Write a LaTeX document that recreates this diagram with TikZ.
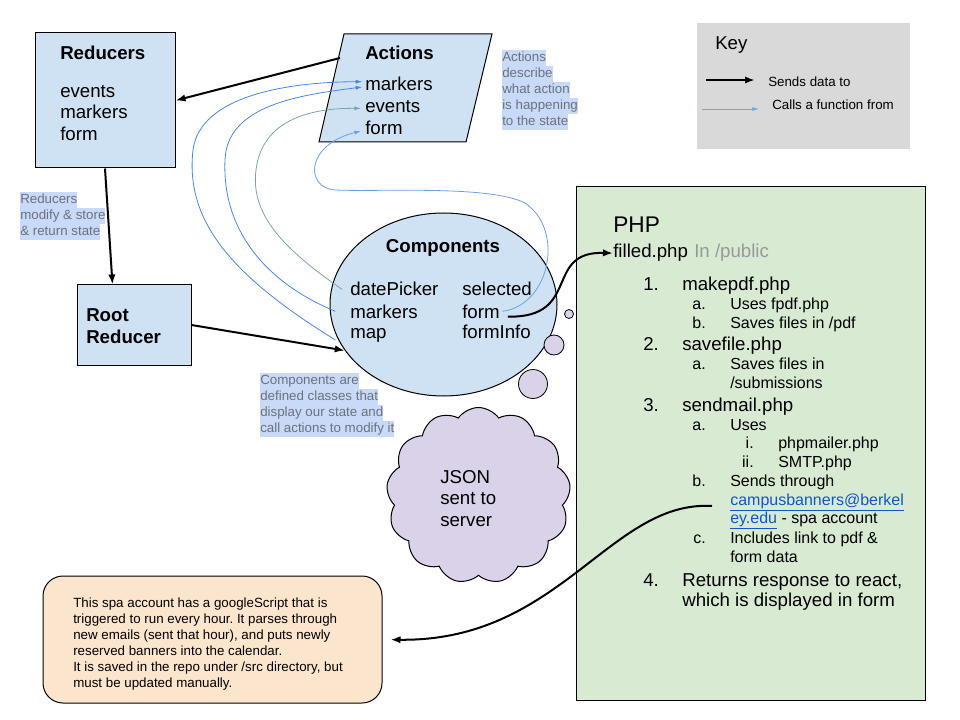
\documentclass[tikz,border=0pt]{standalone}
\usepackage{fontspec}
\setmainfont{Liberation Sans}
\usetikzlibrary{arrows.meta}
\usetikzlibrary{positioning, shapes.geometric, shapes.symbols, calc}

\definecolor{boxblue}{HTML}{CFE2F3}
\definecolor{hlblue}{HTML}{C9DAF8}
\definecolor{notegrey}{HTML}{6A727C}
\definecolor{lilac}{HTML}{D9D2E9}
\definecolor{phpgreen}{HTML}{D9EAD3}
\definecolor{peach}{HTML}{FCE5CD}
\definecolor{keygrey}{HTML}{D9D9D9}
\definecolor{callblue}{HTML}{4A86E8}
\definecolor{calllight}{HTML}{6D9EEB}
\definecolor{callteal}{HTML}{76A5AF}
\definecolor{keyblue}{HTML}{6FA8DC}
\definecolor{linkblue}{HTML}{1155CC}
\definecolor{softgrey}{HTML}{999999}

\setlength{\fboxsep}{0pt}
\frenchspacing
\newcommand{\hlline}[1]{\colorbox{hlblue}{\strut #1}}

\begin{document}
\begin{tikzpicture}[x=0.75pt,y=-0.75pt,
    every node/.style={inner sep=0pt},
    box/.style={draw,fill=boxblue,line width=0.75pt},
    txt/.style={anchor=base west,font=\fontsize{14}{16}\selectfont},
    head/.style={anchor=base west,font=\fontsize{14}{16}\selectfont\bfseries},
    sub/.style={anchor=base west,font=\fontsize{12}{14}\selectfont},
    num/.style={anchor=base east,font=\fontsize{12}{14}\selectfont},
    hint/.style={anchor=north west,align=left,text=notegrey,font=\fontsize{10}{12}\selectfont},
    sends/.style={-{Latex[length=7.5pt,width=5.5pt]},line width=1.5pt},
    calls/.style={-{Latex[length=5pt,width=3pt]},line width=0.6pt,draw=callblue},
    bubble/.style={circle,draw,fill=lilac,line width=0.6pt}]
  \useasboundingbox (0,0) rectangle (960,720);

  % Key
  \node[fill=keygrey,minimum width=159.75pt,minimum height=94.5pt] (key) at (803.5,86) {};
  \node[txt] (keytitle) at (715,50) {Key};
  \coordinate (ks1) at (706,80);
  \coordinate (ks2) at (755,80);
  \coordinate (kc1) at (702,109);
  \coordinate (kc2) at (759,109);
  \draw[sends] (ks1) -- (ks2);
  \draw[calls,draw=keyblue] (kc1) -- (kc2);
  \node[anchor=base west,font=\fontsize{10}{12}\selectfont] (sendslbl) at (768,87) {Sends data to};
  \node[anchor=base west,font=\fontsize{10}{12}\selectfont] (callslbl) at (772,110) {Calls a function from};

  % Reducers and root reducer
  \node[box,minimum width=105pt,minimum height=101.25pt] (reducers) at (105,100.5) {};
  \node[head] (redtitle) at (60,60) {Reducers};
  \node[txt] (revt) at (60,98) {events};
  \node[txt] (rmark) at (60,119) {markers};
  \node[txt] (rform) at (60,141) {form};
  \node[box,minimum width=85.5pt,minimum height=60pt] (root) at (134,325) {};
  \node[head] (roottitle) at (86,321) {Root};
  \node[head] (roottitle2) at (86,343) {Reducer};

  % Actions
  \draw[box] (344,34) -- (492,34) -- (466,142) -- (319,142) -- cycle;
  \coordinate (actout) at (340,58);
  \node[head] (acttitle) at (365,60) {Actions};
  \node[txt] (amark) at (365,91) {markers};
  \node[txt] (aevt) at (365,113) {events};
  \node[txt] (aform) at (365,135) {form};

  % notes
  \node[hint] (actnote) at (502,50) {\hlline{Actions}\\\hlline{describe}\\\hlline{what action}\\\hlline{is happening}\\\hlline{to the state}};
  \node[hint] (rednote) at (20,192) {\hlline{Reducers}\\\hlline{modify \& store}\\\hlline{\& return state}};
  \node[hint] (compnote) at (260,373) {\hlline{Components are}\\\hlline{defined classes that}\\\hlline{display our state and}\\\hlline{call actions to modify it}};

  % Components
  \node[ellipse,box,minimum width=170.25pt,minimum height=137.25pt] (comps) at (443.5,304.5) {};
  \node[head,anchor=base] (comptitle) at (443,253) {Components};
  \node[txt] (cdate) at (350,296) {datePicker};
  \node[txt] (cmark) at (350,318) {markers};
  \node[txt] (cmap) at (350,339) {map};
  \node[txt] (csel) at (462,296) {selected};
  \node[txt] (cform) at (462,318) {form};
  \node[txt] (cinfo) at (462,339) {formInfo};

  % thought bubbles and cloud
  \node[bubble,minimum size=6.75pt] (b1) at (569,314) {};
  \node[bubble,minimum size=15pt] (b2) at (554,345) {};
  \node[bubble,minimum size=21.75pt] (b3) at (533,384) {};
  \node[cloud,cloud puffs=13,cloud puff arc=110,draw,fill=lilac,line width=0.75pt,minimum width=138pt,minimum height=132pt] (json) at (478.5,495.5) {};
  \node[txt] (json1) at (440,483) {JSON};
  \node[txt] (json2) at (440,504) {sent to};
  \node[txt] (json3) at (440,526) {server};

  % PHP
  \node[draw,fill=phpgreen,line width=0.75pt,minimum width=261.75pt,minimum height=384.75pt] (php) at (750.5,443.5) {};
  \node[anchor=base west,font=\fontsize{17}{20}\selectfont] (phptitle) at (613,233) {PHP};
  \node[txt] (filled) at (613,258) {filled.php};
  \node[txt,text=softgrey] (public) at (694,258) {In /public};
  \node[txt] (n1) at (643,291) {1.};
  \node[txt] (makepdf) at (682,291) {makepdf.php};
  \node[num] (n1a) at (706,310) {a.};
  \node[sub] (fpdf) at (730,310) {Uses fpdf.php};
  \node[num] (n1b) at (706,328) {b.};
  \node[sub] (savepdf) at (730,328) {Saves files in /pdf};
  \node[txt] (n2) at (643,350) {2.};
  \node[txt] (savefile) at (682,350) {savefile.php};
  \node[num] (n2a) at (706,369) {a.};
  \node[sub] (savesub) at (730,369) {Saves files in};
  \node[sub] (savesub2) at (730,388) {/submissions};
  \node[txt] (n3) at (643,411) {3.};
  \node[txt] (sendmail) at (682,411) {sendmail.php};
  \node[num] (n3a) at (706,430) {a.};
  \node[sub] (uses) at (730,430) {Uses};
  \node[num] (n3ai) at (754,448) {i.};
  \node[sub] (mailer) at (778,448) {phpmailer.php};
  \node[num] (n3aii) at (754,467) {ii.};
  \node[sub] (smtp) at (778,467) {SMTP.php};
  \node[num] (n3b) at (706,486) {b.};
  \node[sub] (through) at (730,486) {Sends through};
  \node[sub,text=linkblue] (mail1) at (730,505) {\underline{campusbanners@berkel}};
  \node[sub] (mail2) at (730,523) {\textcolor{linkblue}{\underline{ey.edu}} - spa account};
  \node[num] (n3c) at (706,543) {c.};
  \node[sub] (incl) at (730,543) {Includes link to pdf \&};
  \node[sub] (incl2) at (730,562) {form data};
  \node[txt] (n4) at (643,586) {4.};
  \node[txt] (returns) at (682,586) {Returns response to react,};
  \node[txt] (returns2) at (682,606) {which is displayed in form};
  \coordinate (sendfrom) at (712,506);

  % spa account note
  \node[draw,fill=peach,rounded corners=15pt,line width=0.75pt,minimum width=254.25pt,minimum height=95.25pt] (note) at (212.5,639.5) {};
  \node[anchor=north west,align=left,font=\fontsize{10}{12}\selectfont] (notetext) at (73,595.8) {\strut This spa account has a googleScript that is\\triggered to run every hour. It parses through\\new emails (sent that hour), and puts newly\\reserved banners into the calendar.\\It is saved in the repo under /src directory, but\\must be updated manually.};

  % sends data to
  \draw[sends] (actout) -- (reducers.east);
  \draw[sends] (reducers.south) -- ($(root.north west)+(36,0)$);
  \draw[sends] (root.east) -- (comps.205);
  \draw[sends] ([xshift=6pt,yshift=-4pt]cform.east) .. controls (582,318) and (543,251) .. (filled.west);
  \draw[sends,shorten >=6pt] (sendfrom) .. controls (610,500) and (560,642) .. (note.east);

  % calls a function from
  \draw[calls] ([xshift=-11pt,yshift=-3pt]cmap.west) .. controls (230,275) and (185,220) .. (193,150)
    .. controls (200,95) and (290,82) .. ([xshift=-2pt,yshift=2pt]amark.west);
  \draw[calls] ([xshift=-11pt]cmark.west) .. controls (260,280) and (222,225) .. (225,160)
    .. controls (227,105) and (300,95) .. ([xshift=-2pt,yshift=-2pt]amark.west);
  \draw[calls,draw=callteal] ([xshift=-6pt]cdate.west) .. controls (285,250) and (250,215) .. (256,170)
    .. controls (262,120) and (310,108) .. ([xshift=-3pt,yshift=-1pt]aevt.west);
  \draw[calls,draw=calllight] ([xshift=2pt]cform.east) .. controls (550,305) and (565,230) .. (525,203)
    .. controls (490,185) and (380,192) .. (335,190)
    .. controls (305,188) and (305,145) .. ([xshift=-3pt,yshift=-2pt]aform.west);
\end{tikzpicture}
\end{document}
